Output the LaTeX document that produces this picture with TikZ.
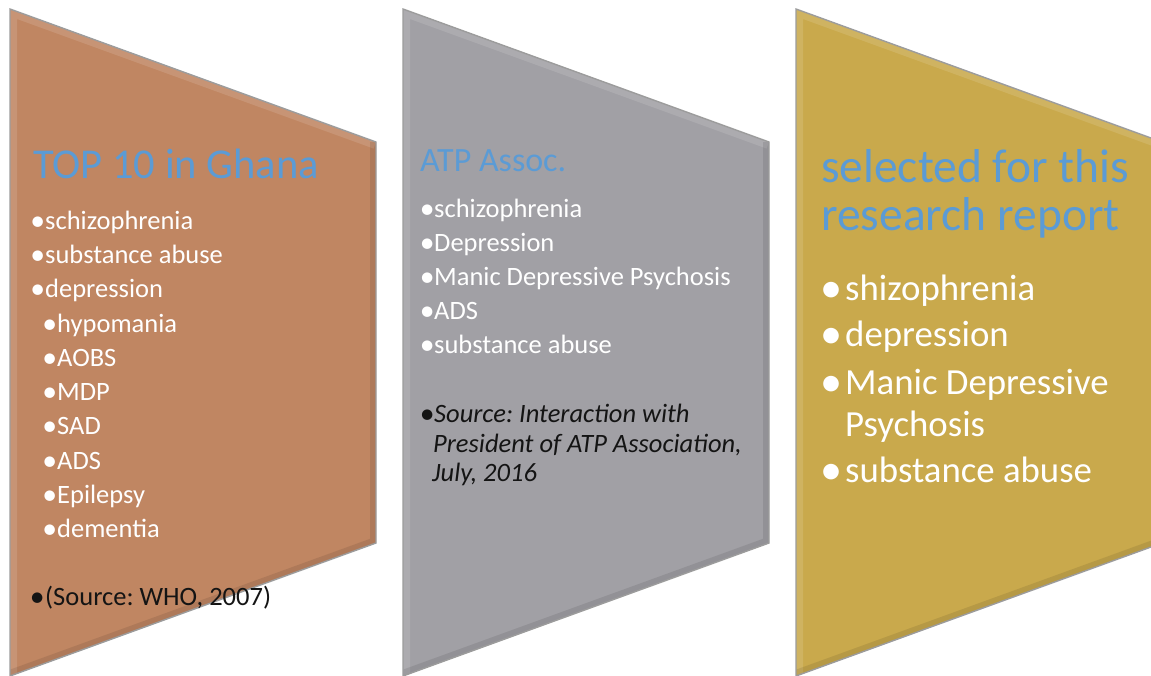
\documentclass[tikz,border=0pt]{standalone}
\usepackage{fontspec}
\setmainfont{Carlito}
\frenchspacing
\definecolor{panelA}{HTML}{C08662}
\definecolor{panelB}{HTML}{A1A0A5}
\definecolor{panelC}{HTML}{C9A94C}
\definecolor{headblue}{HTML}{5B9BD5}
\definecolor{rim}{HTML}{9C9C9C}
\definecolor{inktext}{HTML}{141414}
% list bullet: a dot scaled by #1, hung left of the text with its centre #2 before it
\newcommand{\bul}[2]{\llap{\makebox[0pt][c]{\raisebox{-0.06em}{\scalebox{#1}{\upshape •}}}\hspace*{#2}}}
\newcommand{\chevronpath}[1]{(#1,9) -- ({#1+366},142) -- ({#1+366},543) -- (#1,676) -- cycle}
\newcommand{\chevronpanel}[2]{%
  \fill[#2] \chevronpath{#1};
  \begin{scope}
    \clip \chevronpath{#1};
    % soft bevel: light rim on the left, shade on the right and bottom
    \draw[white, opacity=0.12, line width=14] (#1,676) -- (#1,9) -- ({#1+366},142);
    \draw[black, opacity=0.09, line width=12] ({#1+366},142) -- ({#1+366},543) -- (#1,676);
  \end{scope}
  \draw[rim, line width=1.4, line join=miter] \chevronpath{#1};
}
\tikzset{
  item/.style={anchor=base west, inner sep=0pt, text=white, font=\fontsize{26.5}{32}\selectfont},
  bigitem/.style={anchor=base west, inner sep=0pt, text=white, font=\fontsize{36.8}{44}\selectfont},
  srcitem/.style={anchor=base west, inner sep=0pt, text=inktext, font=\fontsize{26.5}{32}\selectfont},
  headA/.style={anchor=base west, inner sep=0pt, text=headblue, font=\fontsize{42.5}{50}\selectfont},
  headB/.style={anchor=base west, inner sep=0pt, text=headblue, font=\fontsize{34}{40}\selectfont},
  headC/.style={anchor=base west, inner sep=0pt, text=headblue, font=\fontsize{47.5}{54}\selectfont},
}
\begin{document}
\begin{tikzpicture}[x=1pt,y=-1pt]
\useasboundingbox (0,0) rectangle (1151,675);
\clip (0,0) rectangle (1151,675);
\fill[white] (0,0) rectangle (1151,675);

% three panels
\chevronpanel{10}{panelA}
\chevronpanel{403}{panelB}
\chevronpanel{796}{panelC}

% left panel
\node[headA] (titleA) at (33,178) {TOP 10 in Ghana};
\foreach \t/\y/\ind [count=\i] in {schizophrenia/229/0, substance abuse/263/0, depression/297/0,
    hypomania/332/12, AOBS/366/12, MDP/400/12, SAD/434/12, ADS/469/12, Epilepsy/503/12, dementia/537/12}
  \node[item] (a\i) at ({45+\ind},\y) {\bul{1.12}{7.5pt}\t};
\node[srcitem] (srcA) at (45,605) {\bul{1.12}{8pt}(Source: WHO, 2007)};

% middle panel
\node[headB] (titleB) at (420,171) {ATP Assoc.};
\foreach \t/\y [count=\i] in {schizophrenia/217, Depression/251, Manic Depressive Psychosis/285,
    ADS/319, substance abuse/353}
  \node[item] (b\i) at (434,\y) {\bul{1.12}{7pt}\t};
\node[srcitem] (srcB1) at (434,422) {\bul{1.12}{7pt}\textit{Source: Interaction with}};
\node[srcitem] (srcB2) at (433,452) {\textit{President of ATP Association,}};
\node[srcitem] (srcB3) at (432,481) {\textit{July, 2016}};

% right panel
\node[headC] (titleC1) at (821,182) {selected for this};
\node[headC] (titleC2) at (821,230) {research report};
\foreach \t/\y [count=\i] in {shizophrenia/300, depression/346, Manic Depressive/394, substance abuse/482}
  \node[bigitem] (c\i) at (845,\y) {\bul{1.2}{14pt}\t};
\node[bigitem] (c5) at (845,436) {Psychosis};
\end{tikzpicture}
\end{document}
